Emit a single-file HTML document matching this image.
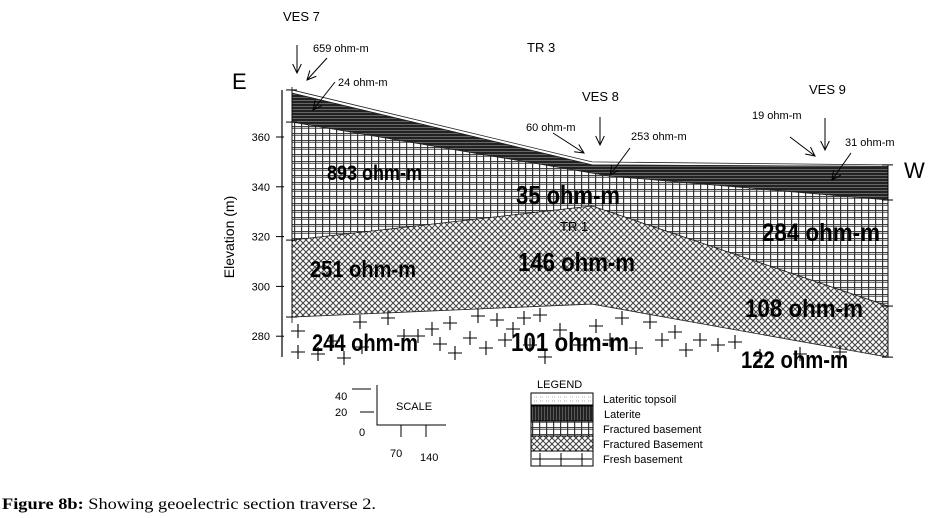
<!DOCTYPE html>
<html><head><meta charset="utf-8"><style>
body{margin:0;background:#fff;width:934px;height:518px;overflow:hidden}
svg{display:block;font-family:"Liberation Sans",sans-serif}
.big{font-weight:bold}
</style></head><body>
<svg id="chart" width="934" height="518" viewBox="0 0 934 518" xmlns="http://www.w3.org/2000/svg">
<defs>
<pattern id="pGrid" width="7" height="7" patternUnits="userSpaceOnUse">
<rect width="7" height="7" fill="#fff"/><path d="M0 0.5H7M0 2.2H7" stroke="#444" stroke-width="1"/><path d="M0.6 0V7" stroke="#333" stroke-width="1.2"/>
</pattern>
<pattern id="pCross" width="6" height="6" patternUnits="userSpaceOnUse">
<rect width="6" height="6" fill="#fff"/><path d="M0 0L6 6M6 0L0 6" stroke="#444" stroke-width="1.1"/>
</pattern>
<pattern id="pLat" width="4" height="3" patternUnits="userSpaceOnUse">
<rect width="4" height="3" fill="#222"/><path d="M0 1.5H4" stroke="#777" stroke-width="0.8"/>
</pattern>
<pattern id="pLatV" width="3" height="4" patternUnits="userSpaceOnUse">
<rect width="3" height="4" fill="#222"/><path d="M1.5 0V4" stroke="#666" stroke-width="0.8"/>
</pattern>
<pattern id="pDots" width="6" height="4" patternUnits="userSpaceOnUse">
<rect width="6" height="4" fill="#fff"/><path d="M0 1H3" stroke="#999" stroke-width="0.8" stroke-dasharray="1 1"/>
</pattern>
</defs>
<g id="layers"></g>
<g id="pluses" stroke="#000" stroke-width="1.1"></g>
<g id="axis"></g>
<g id="arrows" stroke="#000" stroke-width="1" fill="none"></g>

<g>
<text x="283" y="21" font-size="13">VES 7</text>
<text x="313" y="52" font-size="11">659 ohm-m</text>
<text x="527" y="52" font-size="13">TR 3</text>
<text x="338" y="86" font-size="11">24 ohm-m</text>
<text x="582" y="101" font-size="13">VES 8</text>
<text x="526" y="131" font-size="11">60 ohm-m</text>
<text x="631" y="140" font-size="11">253 ohm-m</text>
<text x="752" y="119" font-size="11">19 ohm-m</text>
<text x="809" y="94" font-size="13">VES 9</text>
<text x="845" y="146" font-size="11">31 ohm-m</text>
<text x="232" y="89" font-size="22">E</text>
<text x="904" y="178" font-size="22">W</text>
<text transform="translate(234,237) rotate(-90)" text-anchor="middle" font-size="14">Elevation (m)</text>

<text x="327" y="180" class="big" font-size="21" textLength="95" lengthAdjust="spacingAndGlyphs">893 ohm-m</text>
<text x="516" y="204" class="big" font-size="26" textLength="104" lengthAdjust="spacingAndGlyphs">35 ohm-m</text>
<text x="560" y="231" font-size="13">TR 1</text>
<text x="310" y="277" class="big" font-size="23" textLength="106" lengthAdjust="spacingAndGlyphs">251 ohm-m</text>
<text x="518" y="271" class="big" font-size="26" textLength="117" lengthAdjust="spacingAndGlyphs">146 ohm-m</text>
<text x="762" y="241" class="big" font-size="25" textLength="118" lengthAdjust="spacingAndGlyphs">284 ohm-m</text>
<text x="745" y="317" class="big" font-size="25" textLength="118" lengthAdjust="spacingAndGlyphs">108 ohm-m</text>
<text x="312" y="351" class="big" font-size="24" textLength="106" lengthAdjust="spacingAndGlyphs">244 ohm-m</text>
<text x="511" y="351" class="big" font-size="26" textLength="118" lengthAdjust="spacingAndGlyphs">101 ohm-m</text>
<text x="741" y="368" class="big" font-size="24" textLength="107" lengthAdjust="spacingAndGlyphs">122 ohm-m</text>
</g>

<g stroke="#000" stroke-width="1">
<path d="M377 385V425H446M352 389H371M360 412H374M401 425V437M426 425V437" fill="none"/>
<g stroke="none" font-size="11">
<text x="335" y="400">40</text><text x="335" y="416">20</text><text x="359" y="436">0</text>
<text x="390" y="457">70</text><text x="420" y="461">140</text><text x="396" y="410">SCALE</text>
</g>
</g>

<g font-size="11">
<text x="537" y="388" font-size="11">LEGEND</text>
<rect x="531" y="393" width="62" height="12" fill="url(#pDots)" stroke="#000"/>
<rect x="531" y="406" width="62" height="15" fill="url(#pLatV)" stroke="#000"/>
<rect x="531" y="421" width="62" height="15" fill="url(#pGrid)" stroke="#000"/>
<rect x="531" y="436" width="62" height="15" fill="url(#pCross)" stroke="#000"/>
<rect x="531" y="451" width="62" height="15" fill="#fff" stroke="#000"/>
<path d="M532 459H592M540 453V466M561 453V466M582 453V466" stroke="#000"/>
<text x="603" y="403">Lateritic topsoil</text>
<text x="604" y="418">Laterite</text>
<text x="603" y="433">Fractured basement</text>
<text x="603" y="448">Fractured Basement</text>
<text x="603" y="463">Fresh basement</text>
</g>

<text x="2" y="509" font-family="Liberation Serif,serif" font-size="16" textLength="374" lengthAdjust="spacingAndGlyphs"><tspan font-weight="bold">Figure 8b:</tspan> Showing geoelectric section traverse 2.</text>
</svg>
<script>
// distance along traverse (arbitrary units) and elevation (m) of layer boundaries
const dist = [0, 151, 300];
const topsoilTop = [378.9, 350.0, 348.8];
const lateriteTop = [377.6, 348.8, 348.2];
const latDist = [0, 160, 300];
const lateriteBottom = [366.0, 344.3, 334.7];
const fracBottom = [318.6, 332.3, 292.1];
const crossBottom = [287.7, 292.9, 271.6];
const yTicks = [360, 340, 320, 300, 280];

const NS = "http://www.w3.org/2000/svg";
const X = d => 292 + d * (596 / 300);
const Y = v => 137 + (360 - v) * 2.49;
function line(ds, vs){return ds.map((d,i)=>X(d)+","+Y(vs[i]));}
function band(dTop, top, dBot, bot){
  const a=line(dTop,top), b=line(dBot,bot).reverse();
  return "M"+a.join("L")+"L"+b.join("L")+"Z";
}
const L=document.getElementById('layers');
function addPath(d, fill, name){
  const p=document.createElementNS(NS,'path');
  p.setAttribute('d',d);p.setAttribute('fill',fill);
  p.setAttribute('stroke','#222');p.setAttribute('stroke-width','0.8');
  
  
  L.appendChild(p);
}
addPath(band(dist,topsoilTop,dist,lateriteTop),'#fff','topsoil-layer');
addPath(band(dist,lateriteTop,latDist,lateriteBottom),'url(#pLat)','laterite-layer');
addPath(band(latDist,lateriteBottom,dist,fracBottom),'url(#pGrid)','fractured-basement-layer');
addPath(band(dist,fracBottom,dist,crossBottom),'url(#pCross)','fractured-basement-2-layer');

// fresh basement plus-sign decoration
const P=document.getElementById('pluses');
const pl=[[298,331],[298,352],[318,354],[333,341],[344,358],[360,322],[362,347],[388,318],[404,336],[418,336],[432,329],[440,344],[450,323],[455,353],[470,338],[478,316],[486,348],[497,320],[505,340],[513,329],[524,318],[530,345],[540,315],[545,357],[560,330],[580,345],[596,326],[610,340],[622,318],[636,348],[650,322],[662,340],[675,332],[686,350],[700,340],[718,345],[735,342],[760,356],[800,354],[840,352]];
pl.forEach(([x,y])=>{
  const p=document.createElementNS(NS,'path');
  p.setAttribute('d',`M${x-7} ${y}H${x+7}M${x} ${y-7}V${y+7}`);
  
  
  P.appendChild(p);
});

// axis
const A=document.getElementById('axis');
let s=`<path d="M282 90V357" stroke="#000" stroke-width="1.2"/>`;
yTicks.forEach(v=>{s+=`<path d="M276 ${Y(v)}H284" stroke="#000"/><text x="270" y="${Y(v)+4}" font-size="11" text-anchor="end">${v}</text>`;});
[topsoilTop[0],lateriteBottom[0],fracBottom[0],crossBottom[0]].forEach(v=>{s+=`<path d="M286 ${Y(v)}H297" stroke="#000"/>`;});
[topsoilTop[2],lateriteBottom[2],fracBottom[2],crossBottom[2]].forEach(v=>{s+=`<path d="M882 ${Y(v)}H893" stroke="#000"/>`;});
s+=`<path d="M888 ${Y(topsoilTop[2])}V${Y(crossBottom[2])}" stroke="#000" stroke-width="0.8"/>`;
s+=`<path d="M292 ${Y(topsoilTop[0])-3}V${Y(crossBottom[0])+6}" stroke="#000" stroke-width="0.8"/>`;
A.innerHTML=s;

// arrows
const R=document.getElementById('arrows');
function arrow(x1,y1,x2,y2){
  const a=Math.atan2(y2-y1,x2-x1),h=10;
  const l=a+Math.PI-0.45,r=a+Math.PI+0.45;
  return `<path d="M${x1} ${y1}L${x2} ${y2}M${x2+h*Math.cos(l)} ${y2+h*Math.sin(l)}L${x2} ${y2}L${x2+h*Math.cos(r)} ${y2+h*Math.sin(r)}"/>`;
}
R.innerHTML=[arrow(297,45,297,73),arrow(327,58,307,80),arrow(335,82,313,110),
arrow(600,117,600,145),arrow(553,133,584,153),arrow(630,148,610,175),
arrow(825,118,825,150),arrow(790,137,815,156),arrow(851,153,832,180)].join('');
</script>
</body></html>
